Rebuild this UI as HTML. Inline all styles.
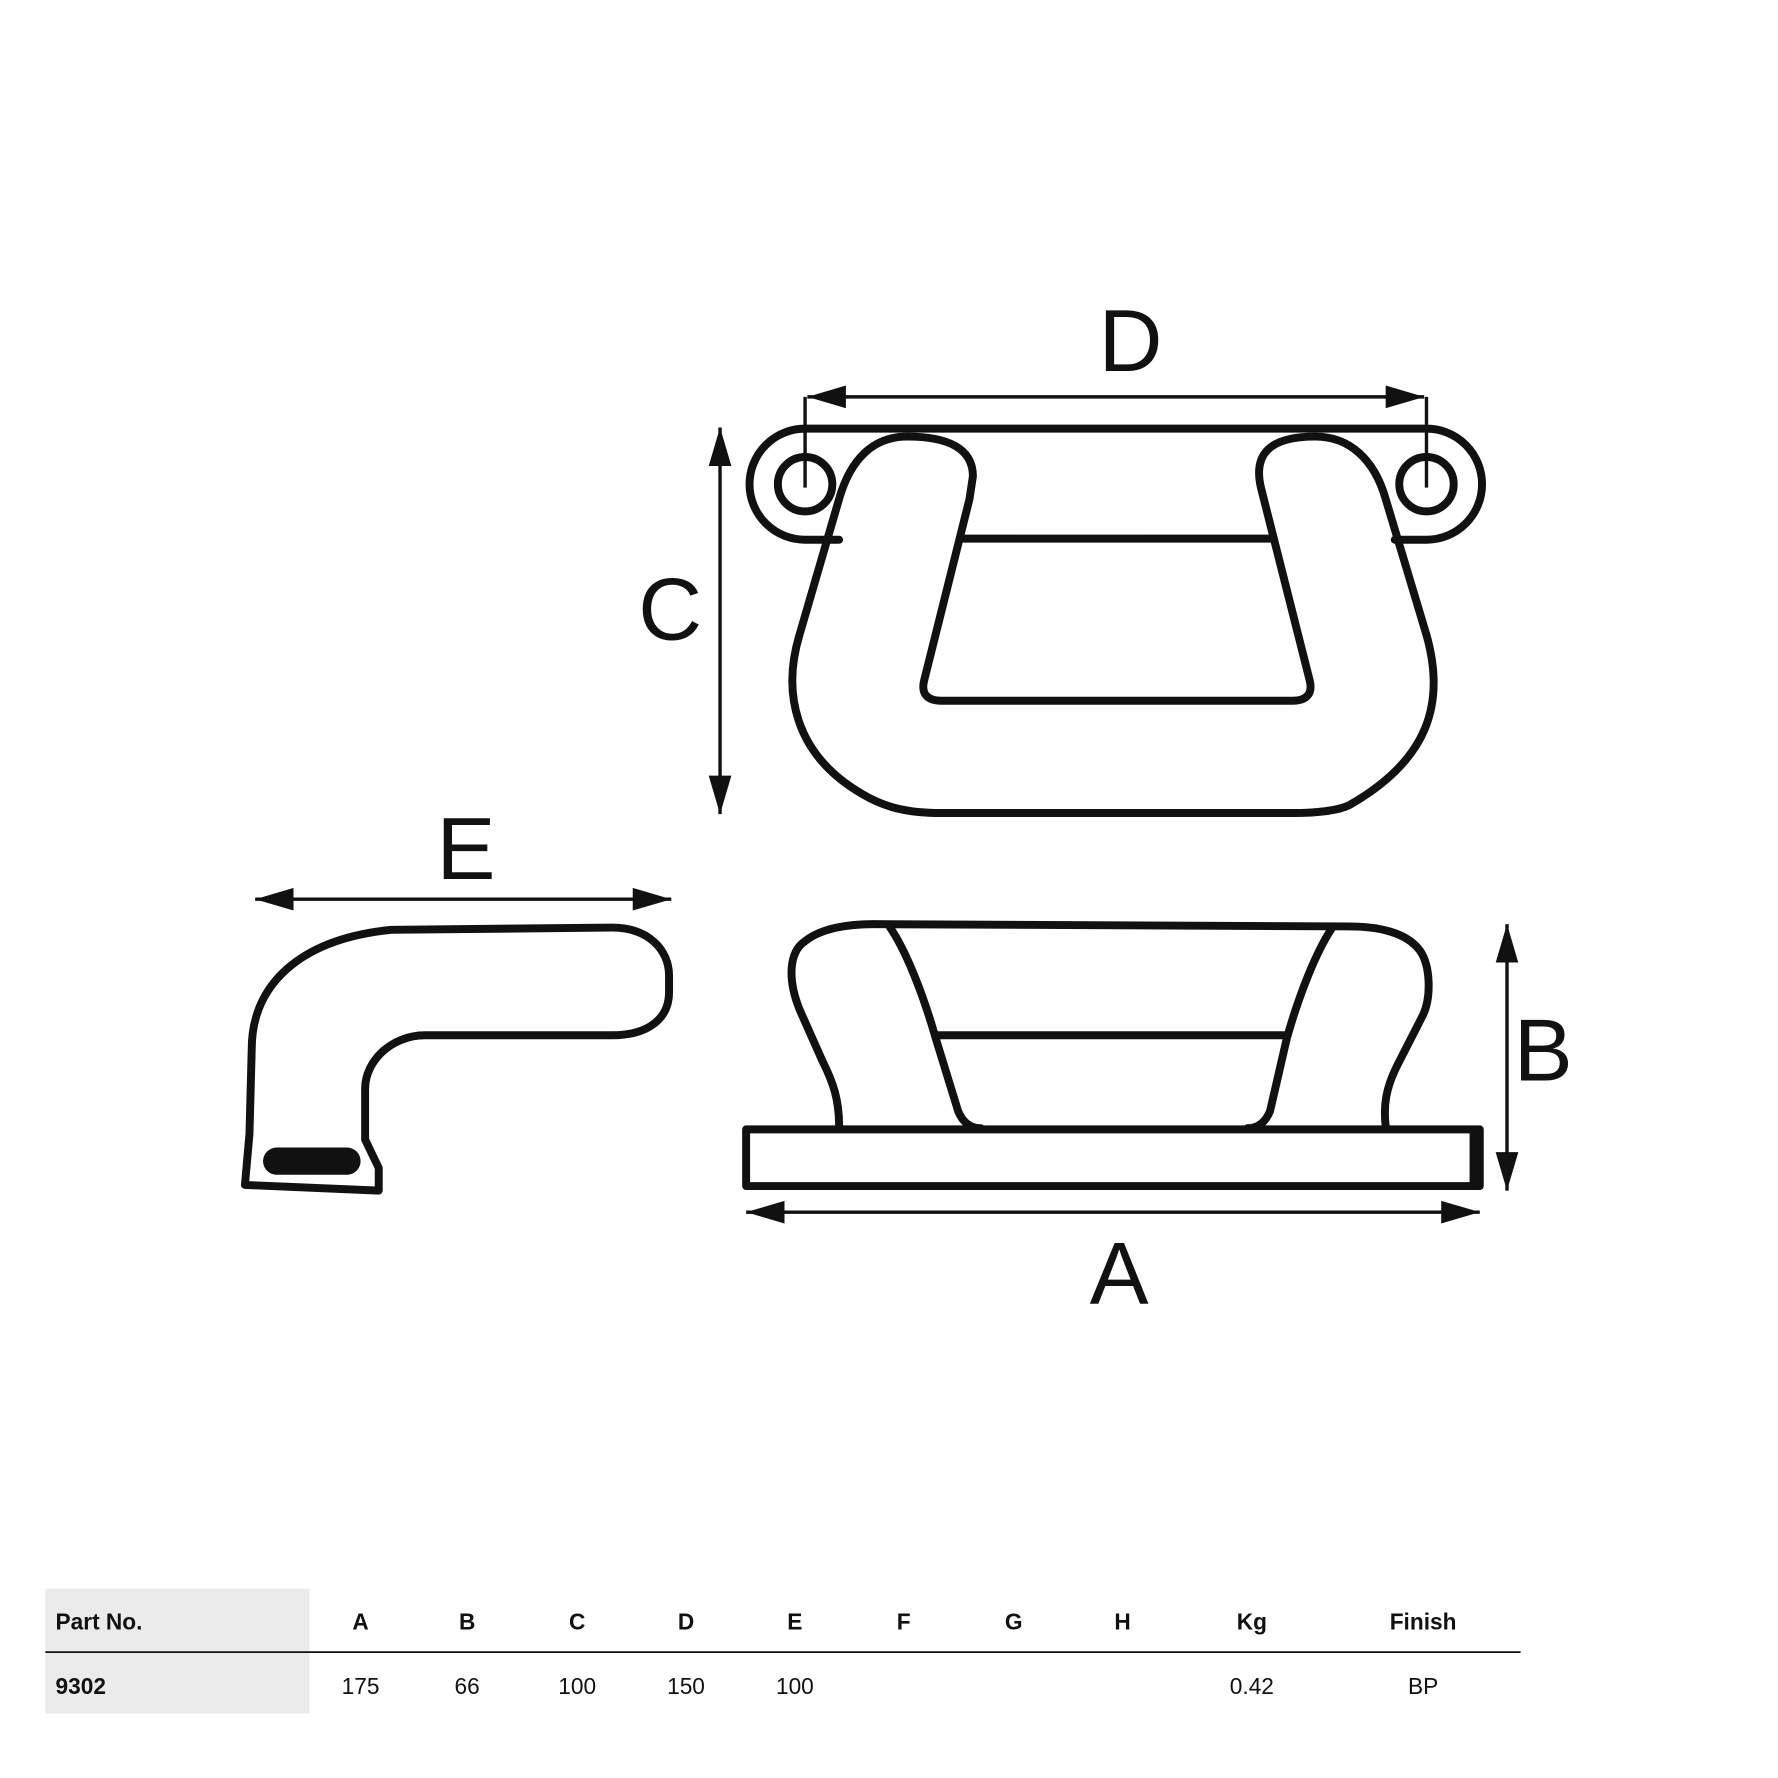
<!DOCTYPE html>
<html><head><style>html,body{margin:0;padding:0;background:#fff}</style></head><body>
<svg width="1778" height="1778" viewBox="0 0 1568 1568" xmlns="http://www.w3.org/2000/svg" style="display:block">
<defs>
<marker id="ar" viewBox="0 0 10 10" refX="10" refY="5" markerWidth="34" markerHeight="20" markerUnits="userSpaceOnUse" orient="auto-start-reverse" preserveAspectRatio="none"><path d="M0,0 L10,5 L0,10 Z" fill="#111"/></marker>
</defs>
<g fill="none" stroke="#111" stroke-width="7" stroke-linejoin="round" stroke-linecap="round">
<path d="M710,378 L1258,378 A49,49 0 0 1 1258,476 L1230,476 M740,476 L710,476 A49,49 0 0 1 710,378"/>
<circle cx="710" cy="427" r="24"/><circle cx="1258" cy="427" r="24"/>
<path d="M740,440 C750,405 770,385 800,385 C835,385 858,395 858,420 L855,440 L815,600 C812,612 818,618 830,618 L1140,618 C1152,618 1158,612 1155,600 L1112,430 C1105,400 1120,385 1160,385 C1190,385 1212,405 1222,440 L1258,560 C1275,620 1260,670 1190,710 C1180,715 1160,717 1140,717 L830,717 C800,717 780,712 760,700 C700,665 690,610 705,560 Z"/>
<line x1="848" y1="475" x2="1120" y2="475"/>
<rect x="658" y="996" width="647" height="50"/>
<path d="M740,993 C740,970 735,955 725,935 L705,890 C695,865 695,840 710,830 C725,818 750,815 770,815 L1190,817 C1215,817 1240,822 1252,838 C1262,852 1262,880 1255,895 L1232,940 C1222,960 1220,975 1222,993"/>
<path d="M785,818 C800,840 815,880 825,915 L845,980 C850,992 858,995 865,995 M1175,818 C1160,840 1145,880 1135,915 L1120,980 C1115,992 1107,995 1100,995"/>
<line x1="827" y1="913" x2="1133" y2="913"/>
<path d="M216,1045 L220,1000 L222,925 C222,868 265,828 345,820 L540,818 C572,818 590,838 590,860 L590,875 C590,898 572,913 540,913 L375,913 C345,913 322,936 322,960 L322,1005 L334,1030 L334,1050 Z"/>
</g>
<rect x="1296" y="996" width="9" height="50" fill="#111"/>
<rect x="232" y="1012" width="86" height="24" rx="12" fill="#111"/>
<g stroke="#111" stroke-width="3" fill="none">
<line x1="712" y1="350" x2="1256" y2="350" marker-start="url(#ar)" marker-end="url(#ar)"/>
<line x1="710" y1="350" x2="710" y2="430"/><line x1="1258" y1="350" x2="1258" y2="430"/>
<line x1="635" y1="377" x2="635" y2="718" marker-start="url(#ar)" marker-end="url(#ar)"/>
<line x1="225" y1="793" x2="592" y2="793" marker-start="url(#ar)" marker-end="url(#ar)"/>
<line x1="1329" y1="815" x2="1329" y2="1050" marker-start="url(#ar)" marker-end="url(#ar)"/>
<line x1="658" y1="1069" x2="1305" y2="1069" marker-start="url(#ar)" marker-end="url(#ar)"/>
</g>
<g font-family="Liberation Sans, sans-serif" font-size="78" fill="#111" text-anchor="middle">
<text x="997" y="327">D</text>
<text x="591" y="564">C</text>
<text x="411" y="775">E</text>
<text x="1361" y="953">B</text>
<text x="987" y="1150">A</text>
</g>
<rect x="40" y="1401" width="233" height="110" fill="#ebebeb"/>
<line x1="40" y1="1457" x2="1341" y2="1457" stroke="#111" stroke-width="1.5"/>
<g font-family="Liberation Sans, sans-serif" font-size="20" fill="#111" text-anchor="middle">
<g font-weight="bold">
<text x="49" y="1437" text-anchor="start">Part No.</text>
<text x="318" y="1437">A</text><text x="412" y="1437">B</text><text x="509" y="1437">C</text>
<text x="605" y="1437">D</text><text x="701" y="1437">E</text><text x="797" y="1437">F</text>
<text x="894" y="1437">G</text><text x="990" y="1437">H</text><text x="1104" y="1437">Kg</text>
<text x="1255" y="1437">Finish</text>
<text x="49" y="1494" text-anchor="start">9302</text>
</g>
<text x="318" y="1494">175</text><text x="412" y="1494">66</text><text x="509" y="1494">100</text>
<text x="605" y="1494">150</text><text x="701" y="1494">100</text>
<text x="1104" y="1494">0.42</text><text x="1255" y="1494">BP</text>
</g>
</svg>
</body></html>
